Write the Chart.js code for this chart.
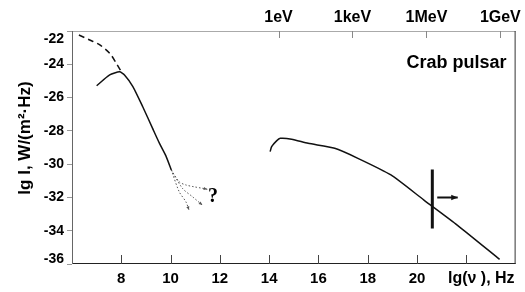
<!DOCTYPE html>
<html>
<head>
<meta charset="utf-8">
<script src="https://cdn.jsdelivr.net/npm/chart.js@4.4.0/dist/chart.umd.min.js"></script>
<style>
  body { margin: 0; background: #fff; }
  canvas { display: block; }
</style>
</head>
<body>
<canvas id="mycanvas" width="525" height="292"></canvas>
<script>
// lg(nu) / lg(I) pairs
var radioDashed = [[6.28,-22.24],[6.72,-22.54],[7.13,-22.84],[7.53,-23.34],[7.8,-23.94],[8.0,-24.45]];
var radioSolid = [[7.0,-25.29],[7.53,-24.64],[7.93,-24.45],[8.13,-24.64],[8.47,-25.34],[8.87,-26.55],[9.27,-27.85],[9.55,-28.75],[9.81,-29.5],[10.03,-30.35]];
var fanUpper = [[10.03,-30.35],[10.35,-31.06],[10.62,-31.25],[10.95,-31.36],[11.29,-31.45],[11.49,-31.51]];
var fanMiddle = [[10.03,-30.35],[10.48,-31.45],[10.89,-31.96],[11.29,-32.46]];
var fanLower = [[10.03,-30.35],[10.35,-31.66],[10.62,-32.26],[10.75,-32.76]];
var opticalToGamma = [[14.04,-29.25],[14.1,-28.95],[14.3,-28.6],[14.45,-28.45],[14.91,-28.5],[15.58,-28.75],[16.66,-29.05],[17.6,-29.65],[18.94,-30.65],[20.28,-32.16],[21.63,-33.66],[23.35,-35.72]];
var cutBar = [[20.62,-30.32],[20.62,-33.87]];
var cutArrow = [[20.82,-32.0],[21.65,-32.0]];
var questionMark = [11.72,-31.98];

var energyPos = [14.38, 17.38, 20.38, 23.38];
var energyLabels = ["1eV", "1keV", "1MeV", "1GeV"];
var xLabels = [8, 10, 12, 14, 16, 18, 20];

var FONT = "'Liberation Sans', Arial, sans-serif";

function pts(arr) {
  return arr.map(function(p){ return {x: p[0], y: p[1]}; });
}

function line(data, opts) {
  var ds = {
    data: pts(data),
    showLine: true,
    fill: false,
    pointRadius: 0,
    borderColor: "#111",
    borderWidth: 1.5,
    tension: 0.3
  };
  for (var k in opts) ds[k] = opts[k];
  return ds;
}

var chartdata = {
  datasets: [
    line(radioDashed, {borderDash: [6, 4]}),
    line(radioSolid, {tension: 0.2}),
    line(fanUpper, {borderColor: "#555", borderWidth: 1, borderDash: [1.5, 2], arrow: 4}),
    line(fanMiddle, {borderColor: "#555", borderWidth: 1, borderDash: [1.5, 2], arrow: 4}),
    line(fanLower, {borderColor: "#555", borderWidth: 1, borderDash: [1.5, 2], arrow: 4}),
    line(opticalToGamma, {tension: 0.2}),
    line(cutBar, {borderWidth: 3, tension: 0}),
    line(cutArrow, {borderWidth: 2, tension: 0, arrow: 7})
  ]
};

var extras = {
  id: "extras",
  afterDatasetsDraw: function(chart) {
    var ctx = chart.ctx;
    // arrow heads at the end of flagged lines
    chart.data.datasets.forEach(function(ds, i) {
      if (!ds.arrow) return;
      var pts = chart.getDatasetMeta(i).data;
      var a = pts[pts.length - 2], b = pts[pts.length - 1];
      var ang = Math.atan2(b.y - a.y, b.x - a.x);
      var L = ds.arrow;
      ctx.save();
      ctx.fillStyle = ds.borderColor;
      ctx.beginPath();
      ctx.moveTo(b.x, b.y);
      ctx.lineTo(b.x - L * Math.cos(ang - 0.4), b.y - L * Math.sin(ang - 0.4));
      ctx.lineTo(b.x - L * Math.cos(ang + 0.4), b.y - L * Math.sin(ang + 0.4));
      ctx.closePath();
      ctx.fill();
      ctx.restore();
    });
  },
  afterDraw: function(chart) {
    var ctx = chart.ctx;
    var area = chart.chartArea;
    var x = chart.scales.x, xt = chart.scales.xTop, y = chart.scales.y;
    ctx.save();
    // frame
    ctx.lineWidth = 1;
    ctx.strokeStyle = "#aaa";
    ctx.beginPath(); ctx.moveTo(area.left, area.top + 0.5); ctx.lineTo(area.right, area.top + 0.5); ctx.stroke();
    ctx.strokeStyle = "#333";
    ctx.beginPath(); ctx.moveTo(area.right - 0.5, area.top); ctx.lineTo(area.right - 0.5, area.bottom); ctx.stroke();
    ctx.strokeStyle = "#222";
    ctx.beginPath(); ctx.moveTo(area.left, area.bottom - 0.5); ctx.lineTo(area.right, area.bottom - 0.5); ctx.stroke();
    ctx.strokeStyle = "#666";
    ctx.beginPath(); ctx.moveTo(area.left + 0.5, area.top); ctx.lineTo(area.left + 0.5, area.bottom); ctx.stroke();

    // inside ticks, bottom
    ctx.strokeStyle = "#444";
    x.ticks.forEach(function(t) {
      var px = Math.round(x.getPixelForValue(t.value)) + 0.5;
      if (t.value <= x.min || t.value >= x.max) return;
      ctx.beginPath(); ctx.moveTo(px, area.bottom); ctx.lineTo(px, area.bottom - 9); ctx.stroke();
    });
    // inside ticks, top
    ctx.strokeStyle = "#888";
    xt.ticks.forEach(function(t) {
      var px = Math.round(xt.getPixelForValue(t.value)) + 0.5;
      ctx.beginPath(); ctx.moveTo(px, area.top); ctx.lineTo(px, area.top + 7); ctx.stroke();
    });

    // y tick labels, kept inside the frame height
    ctx.fillStyle = "#000";
    ctx.font = "bold 14px " + FONT;
    ctx.textAlign = "right";
    ctx.textBaseline = "middle";
    y.ticks.forEach(function(t) {
      var py = y.getPixelForValue(t.value);
      py = Math.min(Math.max(py, area.top + 8), area.bottom - 5);
      ctx.fillText(String(t.value), area.left - 8, py);
    });

    // axis names
    ctx.font = "bold 16px " + FONT;
    ctx.fillText("lg(\u03bd ), Hz", area.right - 1, area.bottom + 15);

    ctx.save();
    ctx.translate(25, 138);
    ctx.rotate(-Math.PI / 2);
    ctx.textAlign = "center";
    ctx.font = "bold 17px " + FONT;
    ctx.fillText("lg I, W/(m\u00b2\u00b7Hz)", 0, 0);
    ctx.restore();

    ctx.font = "bold 18px " + FONT;
    ctx.textAlign = "right";
    ctx.fillText("Crab pulsar", area.right - 9, area.top + 32);

    ctx.font = "bold 20px 'Liberation Serif', 'Times New Roman', serif";
    ctx.textAlign = "center";
    ctx.fillText("?", x.getPixelForValue(questionMark[0]), y.getPixelForValue(questionMark[1]));
    ctx.restore();
  }
};

var ctx = document.getElementById("mycanvas");

var LineGraph = new Chart(ctx, {
  type: "scatter",
  data: chartdata,
  plugins: [extras],
  options: {
    responsive: false,
    animation: false,
    layout: { padding: { right: 6 } },
    plugins: { legend: { display: false }, tooltip: { enabled: false } },
    scales: {
      x: {
        type: "linear",
        position: "bottom",
        min: 6,
        max: 24,
        afterFit: function(s) { s.height = 28; },
        afterBuildTicks: function(s) {
          var t = [];
          for (var v = 6; v <= 24; v += 2) t.push({value: v});
          s.ticks = t;
        },
        ticks: {
          autoSkip: false,
          maxRotation: 0,
          padding: 6,
          color: "#000",
          font: { family: FONT, size: 15, weight: "bold" },
          callback: function(v) { return xLabels.indexOf(v) >= 0 ? String(v) : ""; }
        },
        grid: { drawOnChartArea: false, drawTicks: false },
        border: { display: false }
      },
      xTop: {
        type: "linear",
        position: "top",
        min: 6,
        max: 24,
        afterFit: function(s) { s.height = 31; },
        afterBuildTicks: function(s) {
          s.ticks = energyPos.map(function(v){ return {value: v}; });
        },
        ticks: {
          autoSkip: false,
          maxRotation: 0,
          padding: 4,
          color: "#000",
          font: { family: FONT, size: 16, weight: "bold" },
          callback: function(v, i) { return energyLabels[i]; }
        },
        grid: { drawOnChartArea: false, drawTicks: false },
        border: { display: false }
      },
      y: {
        type: "linear",
        min: -36,
        max: -22,
        afterFit: function(s) { s.width = 72; },
        ticks: {
          stepSize: 2,
          display: false
        },
        grid: { drawOnChartArea: false, tickLength: 5, tickColor: "#999" },
        border: { display: false }
      }
    }
  }
});
</script>
</body>
</html>
